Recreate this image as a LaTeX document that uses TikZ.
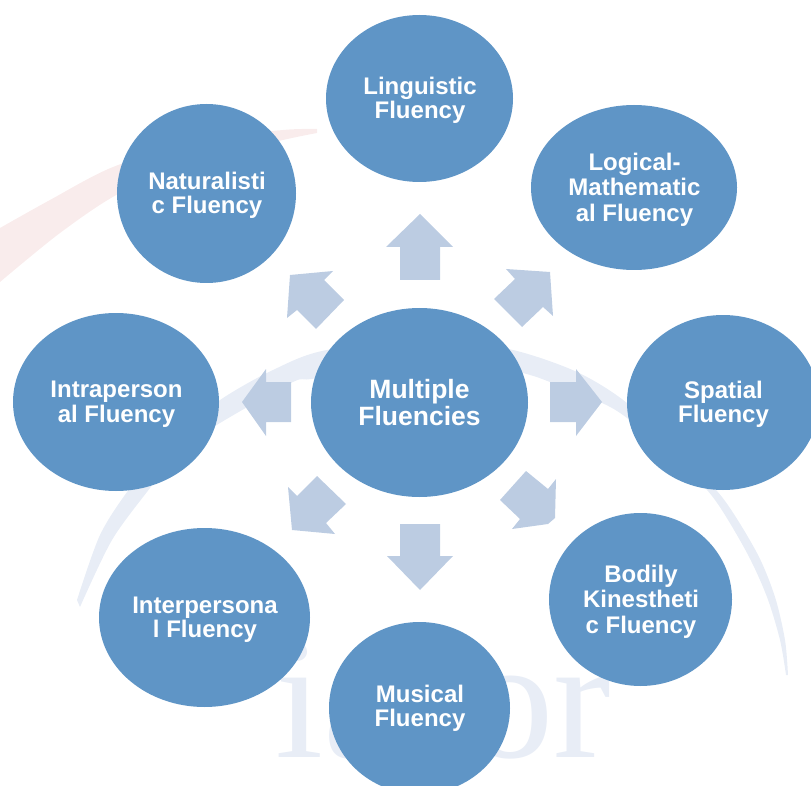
\documentclass[tikz,border=0pt]{standalone}
\usepackage{fontspec}
\setmainfont{Liberation Sans}
\newfontfamily\wmfont{Liberation Serif}
\definecolor{bub}{HTML}{5F95C6}
\definecolor{blk}{HTML}{BCCCE2}
\definecolor{wmb}{HTML}{E8EDF6}
\definecolor{wmp}{HTML}{F9ECEC}
\usetikzlibrary{shapes.geometric}
\tikzset{
 bub/.style={ellipse,fill=bub,inner sep=0pt,minimum width=#1},
 bubtxt/.style={text=white,font=\bfseries\fontsize{24}{24.5}\selectfont,align=center,inner sep=0pt,yshift=-2pt,xshift=0.5pt},
 bubtxtthree/.style={text=white,font=\bfseries\fontsize{24}{25.5}\selectfont,align=center,inner sep=0pt,yshift=-2pt,xshift=0.5pt},
 bubtxtbig/.style={text=white,font=\bfseries\fontsize{26.5}{27}\selectfont,align=center,inner sep=0pt},
 bigblk/.style={fill=blk},
}
\begin{document}
\begin{tikzpicture}[x=1pt,y=-1pt]
\useasboundingbox (0,0) rectangle (811,786);
\clip (0,0) rectangle (811,786);
% watermark
\node[anchor=base west,inner sep=0pt,text=wmb,font=\wmfont\fontsize{173}{173}\selectfont] (wmtext) at (275,757) {iasor};
\fill[wmp] plot[smooth] coordinates {(0,228) (50,200) (113,167) (200,140) (283,130) (317,129)} -- plot[smooth] coordinates {(317,133) (283,140) (200,160) (120,193) (60,233) (0,282)} -- cycle;
\fill[wmb] plot[smooth] coordinates {(77,600) (100,535) (130,488) (170,440) (220,400) (273,370) (327,350) (440,340) (513,350) (577,372) (627,403) (680,455) (722,497) (757,553) (775,597) (785,640) (788,675)} -- plot[smooth] coordinates {(786,675) (780,640) (767,597) (747,553) (715,500) (680,462) (627,418) (600,402) (550,382) (523,373) (440,352) (317,378) (293,382) (220,423) (180,450) (150,488) (112,540) (80,607)} -- cycle;
% block arrows
\path[bigblk] (420,214) -- (453,247) -- (440,247) -- (440,280) -- (400,280) -- (400,247) -- (386,247) -- cycle;
\path[bigblk] (420,590) -- (387,556) -- (400,556) -- (400,524) -- (440,524) -- (440,556) -- (453,556) -- cycle;
\path[bigblk] (242,402) -- (266,369) -- (266,382) -- (291,382) -- (291,422) -- (266,422) -- (266,436) -- cycle;
\path[bigblk] (602,402) -- (576,369) -- (576,382) -- (550,382) -- (550,422) -- (576,422) -- (576,436) -- cycle;
\path[bigblk] (288,487) -- (297,496) -- (317,476) -- (346,504) -- (326,523) -- (335,534) -- (292,530) -- cycle;
\path[bigblk] (526,471) -- (548,489) -- (556,479) -- (555,518) -- (548,524) -- (512,529) -- (520,519) -- (500,500) -- cycle;
\path[bigblk] (290,275) -- (333,271) -- (324,280) -- (344,300) -- (316,329) -- (297,310) -- (287,318) -- cycle;
\path[bigblk] (506,269) -- (550,272) -- (553,316) -- (543,307) -- (522,327) -- (494,299) -- (515,279) -- cycle;
% bubbles
\node[bub=217pt,minimum height=189pt,label={[bubtxtbig]center:{Multiple\\Fluencies}}] (center) at (419.5,402.5) {};
\node[bub=187pt,minimum height=167pt,label={[bubtxt]center:{Linguistic\\Fluency}}] (ling) at (419.5,98.5) {};
\node[bub=206pt,minimum height=165pt,label={[bubtxtthree]center:{Logical-\\Mathematic\\al Fluency}}] (logi) at (634,187.5) {};
\node[bub=192pt,minimum height=175pt,label={[bubtxt]center:{Spatial\\Fluency}}] (spat) at (723,402.5) {};
\node[bub=183pt,minimum height=173pt,label={[bubtxtthree]center:{Bodily\\Kinestheti\\c Fluency}}] (bodi) at (640.5,599.5) {};
\node[bub=181pt,minimum height=172pt,label={[bubtxt,yshift=1.5pt]center:{Musical\\Fluency}}] (musi) at (419.5,708) {};
\node[bub=211pt,minimum height=179pt,label={[bubtxt]center:{Interpersona\\l Fluency}}] (inte) at (204.5,617.5) {};
\node[bub=206pt,minimum height=178pt,label={[bubtxt]center:{Intraperson\\al Fluency}}] (intr) at (116,402) {};
\node[bub=179pt,minimum height=179pt,label={[bubtxt]center:{Naturalisti\\c Fluency}}] (natu) at (206.5,193.5) {};
\end{tikzpicture}
\end{document}
